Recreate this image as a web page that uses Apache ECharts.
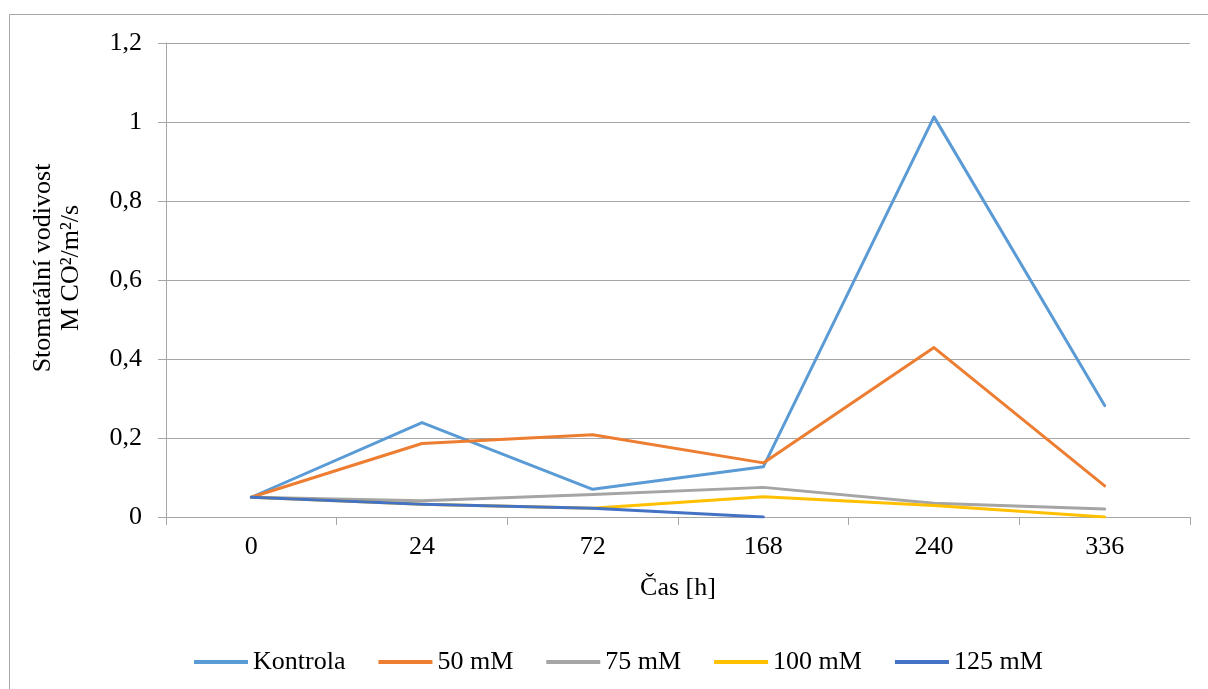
<!DOCTYPE html>
<html>
<head>
<meta charset="utf-8">
<script src="https://cdn.jsdelivr.net/npm/echarts@6/dist/echarts.min.js"></script>
<style>
  html, body { margin: 0; padding: 0; background: #ffffff; }
  #chart { width: 1208px; height: 689px; }
</style>
</head>
<body>
<div id="chart"></div>
<script>
// Sampling times (hours)
const categories = ['0', '24', '72', '168', '240', '336'];

// Stomatal conductance per treatment
const kontrola = [0.05, 0.239, 0.070, 0.127, 1.013, 0.282];
const mM50     = [0.05, 0.186, 0.208, 0.137, 0.429, 0.079];
const mM75     = [0.05, 0.041, 0.057, 0.075, 0.035, 0.020];
const mM100    = [0.05, 0.032, 0.022, 0.051, 0.029, 0.0];
const mM125    = [0.05, 0.032, 0.022, 0.0, null, null];

const seriesNames = ['Kontrola', '50 mM', '75 mM', '100 mM', '125 mM'];
const seriesData = [kontrola, mM50, mM75, mM100, mM125];
const colors = ['#5B9BD5', '#ED7D31', '#A5A5A5', '#FFC000', '#4472C4'];

const FONT = 'Liberation Serif';
const FS = 26;

const chart = echarts.init(document.getElementById('chart'), null, { renderer: 'canvas' });

chart.setOption({
  animation: false,
  backgroundColor: '#ffffff',
  color: colors,
  textStyle: { fontFamily: FONT, color: '#000000' },
  grid: { left: 166, right: 18, top: 43, bottom: 172, containLabel: false },
  graphic: [
    {
      type: 'rect',
      shape: { x: 9.5, y: 14.5, width: 1230, height: 700 },
      style: { fill: 'none', stroke: '#a6a6a6', lineWidth: 1 },
      silent: true
    },
    {
      type: 'text',
      x: 57,
      y: 268,
      rotation: Math.PI / 2,
      style: {
        text: 'Stomatální vodivost\nM CO²/m²/s',
        fontFamily: FONT,
        fontSize: FS,
        lineHeight: 28,
        fill: '#000000',
        align: 'center',
        verticalAlign: 'middle'
      }
    }
  ],
  legend: {
    left: 189,
    top: 644,
    icon: 'rect',
    itemWidth: 54,
    itemHeight: 4,
    itemGap: 33,
    textStyle: { fontFamily: FONT, fontSize: FS, color: '#000000', padding: [0, 0, 0, 0] },
    data: seriesNames
  },
  xAxis: {
    type: 'category',
    data: categories,
    boundaryGap: true,
    name: 'Čas [h]',
    nameLocation: 'middle',
    nameGap: 58,
    nameTextStyle: { fontFamily: FONT, fontSize: FS, color: '#000000' },
    axisLine: { lineStyle: { color: '#a6a6a6', width: 1 } },
    axisTick: { show: true, length: 8, lineStyle: { color: '#a6a6a6' } },
    axisLabel: { fontFamily: FONT, fontSize: FS, color: '#000000', margin: 17 }
  },
  yAxis: {
    type: 'value',
    min: 0,
    max: 1.2,
    interval: 0.2,
    axisLine: { show: true, lineStyle: { color: '#a6a6a6', width: 1 } },
    axisTick: { show: true, length: 8, lineStyle: { color: '#a6a6a6' } },
    splitLine: { show: true, lineStyle: { color: '#a6a6a6', width: 1 } },
    axisLabel: {
      fontFamily: FONT, fontSize: FS, color: '#000000', margin: 24,
      formatter: v => String(Math.round(v * 10) / 10).replace('.', ',')
    }
  },
  series: seriesNames.map((name, i) => ({
    name: name,
    type: 'line',
    data: seriesData[i],
    showSymbol: false,
    symbol: 'none',
    connectNulls: false,
    lineStyle: { width: 3, color: colors[i], cap: 'round', join: 'round' },
    itemStyle: { color: colors[i] }
  }))
});
</script>
</body>
</html>
